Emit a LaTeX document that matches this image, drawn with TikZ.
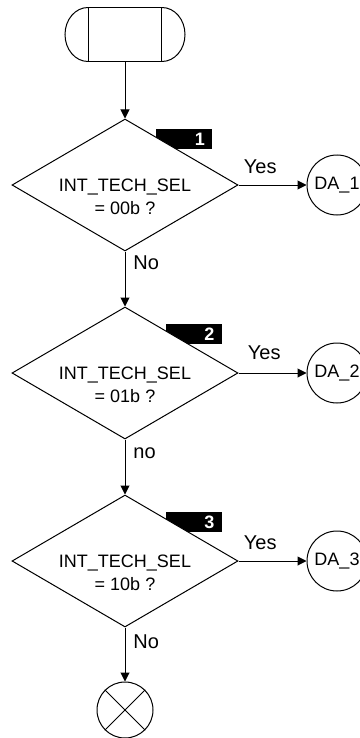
\documentclass[tikz,border=0pt]{standalone}
\usepackage{fontspec}
\setmainfont{Liberation Sans}
\usetikzlibrary{shapes, arrows.meta, positioning, backgrounds}
\tikzstyle{decision} = [diamond, draw, fill=white, line width=0.5pt, minimum width=113pt, minimum height=66pt, inner sep=0pt]
\tikzstyle{question} = [align=center, inner sep=0pt, font=\fontsize{9pt}{11.5pt}\selectfont]
\tikzstyle{numtag} = [fill=black, text=white, font=\fontsize{9pt}{10pt}\selectfont\bfseries, text width=21pt, align=right, inner xsep=3.5pt, inner ysep=1.75pt, text height=6.5pt, text depth=0pt, minimum height=10pt]
\tikzstyle{terminal} = [draw, line width=0.5pt, minimum width=36.5pt, minimum height=27pt, inner sep=0pt]
\tikzstyle{connector} = [circle, draw, line width=0.5pt, minimum size=30pt, inner sep=0pt, font=\fontsize{9pt}{10pt}\selectfont]
\tikzstyle{answer} = [inner sep=0pt, font=\fontsize{10pt}{11pt}\selectfont]
\tikzstyle{flow} = [draw, line width=0.5pt, -{Triangle[length=4.5pt, width=4.5pt]}]

\begin{document}
\begin{tikzpicture}[x=0.5pt, y=0.5pt]
	\useasboundingbox (0,0) rectangle (359,-738);
	% start
	\node[terminal] (start) at (125,-35) {};
	\draw[line width=0.5pt] (start.north west) arc[start angle=90, end angle=270, x radius=11.5pt, y radius=13.5pt];
	\draw[line width=0.5pt] (start.north east) arc[start angle=90, end angle=-90, x radius=11.5pt, y radius=13.5pt];
	% decisions
	\node[decision] (d1) at (125,-185) {};
	\node[decision] (d2) at (125,-373) {};
	\node[decision] (d3) at (125,-561) {};
	\node[question] (q1) at ([yshift=-6pt]d1.center) {INT\_TECH\_SEL\\= 00b ?};
	\node[question] (q2) at ([yshift=-6pt]d2.center) {INT\_TECH\_SEL\\= 01b ?};
	\node[question] (q3) at ([yshift=-6pt]d3.center) {INT\_TECH\_SEL\\= 10b ?};
	\begin{scope}[on background layer]
		\node[numtag] (n1) at ([xshift=29.5pt, yshift=23pt]d1.center) {1};
		\node[numtag] (n2) at ([xshift=34.25pt, yshift=19.75pt]d2.center) {2};
		\node[numtag] (n3) at ([xshift=34.25pt, yshift=19.5pt]d3.center) {3};
	\end{scope}
	% connectors
	\node[connector] (da1) at (337,-185) {DA\_1};
	\node[connector] (da2) at (337,-373) {DA\_2};
	\node[connector] (da3) at (337,-561) {DA\_3};
	\node[circle, draw, line width=0.5pt, minimum size=28pt] (stop) at (125,-710) {};
	\draw[line width=0.5pt] (stop.north east) -- (stop.south west) (stop.north west) -- (stop.south east);
	% flow
	\draw[flow] (start) -- (d1);
	\draw[flow] (d1) -- (d2);
	\draw[flow] (d2) -- (d3);
	\draw[flow] (d3) -- (stop);
	\draw[flow] (d1.east) -- (da1.west);
	\draw[flow] (d2.east) -- (da2.west);
	\draw[flow] (d3.east) -- (da3.west);
	% answers
	\node[answer, above right=5.5pt and 2.5pt of d1.east] (y1) {Yes};
	\node[answer, above right=6.5pt and 4.5pt of d2.east] (y2) {Yes};
	\node[answer, above right=5.5pt and 2.5pt of d3.east] (y3) {Yes};
	\node[answer, below right=2pt and 4pt of d1.south] (x1) {No};
	\node[answer, below right=4pt and 4pt of d2.south] (x2) {no};
	\node[answer, below right=3.5pt and 4pt of d3.south] (x3) {No};
\end{tikzpicture}
\end{document}
